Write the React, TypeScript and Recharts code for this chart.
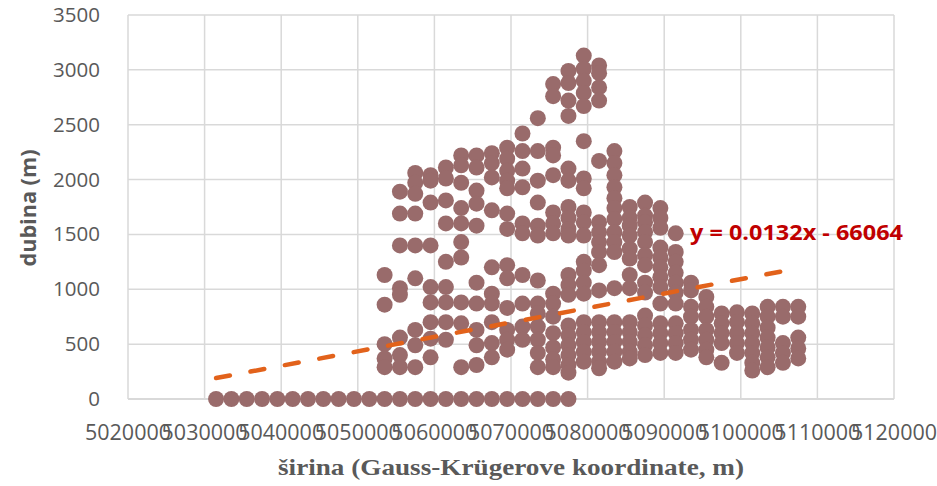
import { CartesianGrid, Scatter, ScatterChart, XAxis, YAxis } from "recharts";

// wells with zero depth along the southern strip
const SURFACE_X = [
  5031500, 5033500, 5035500, 5037500, 5039500, 5041500, 5043500, 5045500,
  5047500, 5049500, 5051500, 5053500, 5055500, 5057500, 5059500, 5061500,
  5063500, 5065500, 5067500, 5069500, 5071500, 5073500, 5075500, 5077500,
];

// northing of each column of wells
const COLUMN_X = [
  5053500, 5055500, 5057500, 5059500, 5061500, 5063500, 5065500, 5067500,
  5069500, 5071500, 5073500, 5075500, 5077500, 5079500, 5081500, 5083500,
  5085500, 5087500, 5089500, 5091500, 5093500, 5095500, 5097500, 5099500,
  5101500, 5103500, 5105500, 5107500,
];

// depths (m) measured in each column, same order as COLUMN_X
const COLUMN_DEPTHS: number[][] = [
  [1130, 860, 500, 370, 290],
  [1890, 1690, 1400, 1010, 950, 560, 400, 290],
  [2060, 1970, 1870, 1690, 1400, 1100, 630, 490, 290],
  [2040, 1990, 1790, 1400, 1020, 880, 700, 550, 380],
  [2110, 2010, 1810, 1600, 1250, 1020, 880, 700, 540],
  [2220, 2130, 1970, 1740, 1600, 1430, 1290, 880, 690, 290],
  [2220, 2110, 1900, 1780, 1580, 1060, 870, 630, 490, 310],
  [2240, 2150, 2020, 1720, 1200, 960, 870, 700, 510, 380],
  [2290, 2190, 2080, 1990, 1920, 1690, 1550, 1220, 1100, 830, 630, 540, 450],
  [2420, 2260, 2100, 1930, 1600, 1510, 1130, 870, 660, 540],
  [2560, 2260, 1990, 1790, 1580, 1490, 1080, 870, 780, 660, 540, 420, 290],
  [2870, 2760, 2290, 2220, 2040, 1700, 1600, 1510, 960, 870, 750, 600, 470, 360, 290],
  [2990, 2880, 2720, 2580, 2100, 1990, 1750, 1650, 1550, 1490, 1130, 1040, 950, 670, 580, 490, 400, 310, 240],
  [3130, 3010, 2900, 2790, 2670, 2350, 2010, 1920, 1700, 1610, 1490, 1250, 1170, 1060, 960, 700, 610, 520, 430, 340],
  [3040, 2970, 2840, 2720, 2170, 1610, 1520, 1430, 1340, 1220, 990, 700, 610, 520, 430, 340, 280],
  [2260, 2150, 2040, 1930, 1830, 1740, 1640, 1520, 1430, 1340, 1010, 700, 610, 520, 430, 340],
  [1750, 1650, 1580, 1490, 1370, 1280, 1130, 1010, 700, 610, 520, 430, 370],
  [1790, 1670, 1610, 1520, 1430, 1310, 1220, 1060, 970, 760, 670, 580, 490, 400],
  [1740, 1650, 1560, 1380, 1290, 1200, 1110, 1020, 870, 690, 600, 510, 420],
  [1510, 1340, 1250, 1150, 1060, 970, 870, 690, 600, 510, 420],
  [1060, 990, 840, 750, 630, 540, 450],
  [930, 840, 750, 630, 540, 450, 380],
  [780, 690, 600, 510, 330],
  [790, 700, 600, 510, 420],
  [780, 690, 600, 510, 420, 330, 260],
  [840, 750, 650, 560, 470, 380, 290],
  [840, 750, 510, 420, 330],
  [840, 750, 560, 460, 370],
];

// linear trend of depth against northing
const TREND_SLOPE = 0.013168;
const TREND_INTERCEPT = -66064;
const TREND_LABEL = "y = 0.0132x - 66064";

const X_TICKS = [
  5020000, 5030000, 5040000, 5050000, 5060000, 5070000, 5080000, 5090000,
  5100000, 5110000, 5120000,
];
const Y_TICKS = [0, 500, 1000, 1500, 2000, 2500, 3000, 3500];

const DOT = "#996B6B";
const TREND = "#E2621B";
const AXIS_TEXT = "#595959";
const GRID = "#D9D9D9";

const wells = [
  ...SURFACE_X.map((x) => ({ x, y: 0 })),
  ...COLUMN_X.flatMap((x, i) => COLUMN_DEPTHS[i].map((y) => ({ x, y }))),
];

const allX = wells.map((w) => w.x);
const trendStart = Math.min(...allX);
const trendEnd = Math.max(...allX);
const trend = [trendStart, trendEnd].map((x) => ({
  x,
  y: TREND_SLOPE * x + TREND_INTERCEPT,
}));

const XTick = ({ x, y, payload }: any) => (
  <text x={x} y={y + 41} textAnchor="middle" fontFamily="Open Sans" fontSize={21.5} fill={AXIS_TEXT}>
    {payload.value}
  </text>
);

const YTick = ({ x, y, payload }: any) => (
  <text x={x} y={y + 7} textAnchor="end" fontFamily="Open Sans" fontSize={20.5} fill={AXIS_TEXT}>
    {payload.value}
  </text>
);

const Dot = ({ cx, cy }: any) => <circle cx={cx} cy={cy} r={8} fill={DOT} />;

export default function App() {
  return (
    <div style={{ position: "absolute", left: 0, top: 0, width: 937, height: 486, background: "#fff" }}>
      <ScatterChart width={937} height={486} margin={{ top: 15, right: 43, bottom: 0, left: 0 }}>
        <CartesianGrid stroke={GRID} strokeWidth={1.5} />
        <XAxis
          type="number"
          dataKey="x"
          domain={[5020000, 5120000]}
          ticks={X_TICKS}
          height={87}
          tickLine={false}
          tickSize={0}
          tickMargin={0}
          axisLine={{ stroke: GRID, strokeWidth: 2 }}
          tick={<XTick />}
          interval={0}
        />
        <YAxis
          type="number"
          dataKey="y"
          domain={[0, 3500]}
          ticks={Y_TICKS}
          width={128}
          axisLine={false}
          tickLine={false}
          tickSize={0}
          tickMargin={28}
          tick={<YTick />}
          interval={0}
        />
        <Scatter data={wells} fill={DOT} shape={<Dot />} isAnimationActive={false} />
        <Scatter
          data={trend}
          shape={() => <g />}
          line={{ stroke: TREND, strokeWidth: 4.5, strokeDasharray: "14 21", strokeLinecap: "round" }}
          isAnimationActive={false}
        />
      </ScatterChart>
      <svg width={937} height={486} style={{ position: "absolute", left: 0, top: 0, pointerEvents: "none" }}>
        <text
          x={690}
          y={240}
          fontFamily="Open Sans"
          fontWeight="bold"
          fontSize={22}
          fill="#C00000"
          textLength={213}
          lengthAdjust="spacingAndGlyphs"
        >
          {TREND_LABEL}
        </text>
        <text
          x={511}
          y={475}
          textAnchor="middle"
          fontFamily="Liberation Serif"
          fontWeight="bold"
          fontSize={24}
          fill={AXIS_TEXT}
          textLength={466}
          lengthAdjust="spacingAndGlyphs"
        >
          širina (Gauss-Krügerove koordinate, m)
        </text>
        <text
          transform="translate(36, 208) rotate(-90)"
          textAnchor="middle"
          fontFamily="Open Sans"
          fontWeight="bold"
          fontSize={21}
          fill={AXIS_TEXT}
          textLength={117}
          lengthAdjust="spacingAndGlyphs"
        >
          dubina (m)
        </text>
      </svg>
    </div>
  );
}
